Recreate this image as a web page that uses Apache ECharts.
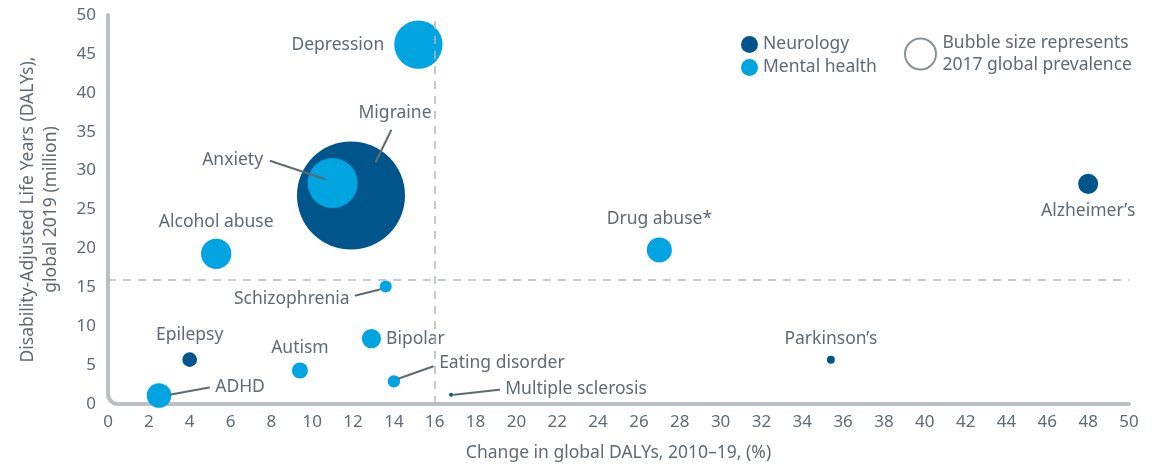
<!DOCTYPE html>
<html>
<head>
<meta charset="utf-8">
<script src="https://cdn.jsdelivr.net/npm/echarts@6/dist/echarts.min.js"></script>
<style>
  html, body { margin: 0; padding: 0; background: #ffffff; }
  #chart { width: 1163px; height: 467px; }
</style>
</head>
<body>
<div id="chart"></div>
<script>
// Neurology conditions: change in DALYs 2010–19 (%), DALYs 2019 (million), 2017 prevalence (million)
const neuroNames = ['Migraine', 'Epilepsy', 'Alzheimer’s', 'Parkinson’s', 'Multiple sclerosis'];
const neuroChange = [11.9, 4.0, 48.0, 35.4, 16.8];
const neuroDalys = [26.8, 5.7, 28.3, 5.7, 1.2];
const neuroPrevalence = [1040, 19, 36, 5.7, 1.4];

// Mental health conditions
const mentalNames = ['Depression', 'Anxiety', 'Alcohol abuse', 'Drug abuse*', 'Schizophrenia', 'Bipolar', 'Autism', 'Eating disorder', 'ADHD'];
const mentalChange = [15.2, 11.0, 5.3, 27.0, 13.6, 12.9, 9.4, 14.0, 2.5];
const mentalDalys = [46.2, 28.4, 19.3, 19.8, 15.1, 8.4, 4.3, 2.9, 1.1];
const mentalPrevalence = [208, 223, 82, 56, 13, 33, 23, 13.5, 54];

// Reference thresholds drawn as dashed guides
const thresholdChange = 16;
const thresholdDalys = 16;

const seriesNames = ['Neurology', 'Mental health'];
const sizeNote = 'Bubble size represents\n2017 global prevalence';

// ---- styling ----
const FONT = 'Noto Sans';
const TEXT = '#5f6a72';
const AXIS_GREY = '#bac1c5';
const DASH_GREY = '#b3b9bd';
const DARK_BLUE = '#00568a';
const LIGHT_BLUE = '#00a4e0';
const LEADER = '#5f6a72';
const SIZE_SCALE = 3.35;   // bubble diameter = sqrt(prevalence) * scale
const LABEL_SIZE = 17.5;
const TICK_SIZE = 17;

// Label placement in pixels: either a side position, or a shift from the
// bubble centre plus a leader line (start/end offsets from the centre)
const labelPlacement = {
  'Migraine':           { dx: 44,  dy: -82, line: [25, -34, 40, -65] },
  'Anxiety':            { dx: -100, dy: -23, line: [-8, -4, -62, -22] },
  'Schizophrenia':      { dx: -94, dy: 12,  line: [-6, 3, -30, 9] },
  'ADHD':               { dx: 81,  dy: -8,  line: [12, -1, 50, -8] },
  'Eating disorder':    { dx: 108, dy: -18, line: [5, -3, 39, -15] },
  'Multiple sclerosis': { dx: 125, dy: -6,  line: [3, 0, 48, -5] },
  'Depression':         { position: 'left', distance: 10 },
  'Alcohol abuse':      { position: 'top', distance: 8 },
  'Epilepsy':           { position: 'top', distance: 8 },
  'Autism':             { position: 'top', distance: 5 },
  'Bipolar':            { position: 'right', distance: 5, offset: [0, -8] },
  'Parkinson’s':        { position: 'top', distance: 8 },
  'Alzheimer’s':        { position: 'bottom', distance: 8 },
  'Drug abuse*':        { position: 'top', distance: 9 }
};

function buildData(names, xs, ys, sizes) {
  return names.map(function (name, i) {
    const p = labelPlacement[name] || {};
    const item = { name: name, value: [xs[i], ys[i], sizes[i]] };
    if (p.line) {
      item.label = { position: 'inside' };
    } else {
      item.label = { position: p.position || 'top', distance: p.distance || 5, offset: p.offset || [0, 0] };
    }
    return item;
  });
}

function layoutFor(names) {
  return function (params) {
    const p = labelPlacement[names[params.dataIndex]];
    if (p && p.line) return { dx: p.dx, dy: p.dy };
    return {};
  };
}

// Points that carry a leader line
const leaderItems = [];
[[neuroNames, neuroChange, neuroDalys], [mentalNames, mentalChange, mentalDalys]].forEach(function (g) {
  g[0].forEach(function (name, i) {
    if (labelPlacement[name] && labelPlacement[name].line) {
      leaderItems.push({ name: name, value: [g[1][i], g[2][i]] });
    }
  });
});

const labelStyle = {
  show: true,
  formatter: '{b}',
  color: TEXT,
  fontFamily: FONT,
  fontSize: LABEL_SIZE
};

const chart = echarts.init(document.getElementById('chart'), null, { renderer: 'canvas' });

const option = {
  backgroundColor: '#ffffff',
  animation: false,
  textStyle: { fontFamily: FONT },
  grid: { left: 108, right: 34, top: 15, bottom: 63 },
  xAxis: {
    type: 'value',
    min: 0, max: 50, interval: 2,
    name: 'Change in global DALYs, 2010–19, (%)',
    nameLocation: 'middle',
    nameGap: 40,
    nameTextStyle: { color: TEXT, fontSize: LABEL_SIZE, fontFamily: FONT },
    axisLine: { show: false },
    axisTick: { show: false },
    splitLine: { show: false },
    axisLabel: { color: TEXT, fontSize: TICK_SIZE, fontFamily: FONT, margin: 10 }
  },
  yAxis: {
    type: 'value',
    min: 0, max: 50, interval: 5,
    name: 'Disability-Adjusted Life Years (DALYs),\nglobal 2019 (million)',
    nameLocation: 'middle',
    nameGap: 45,
    nameTextStyle: { color: TEXT, fontSize: LABEL_SIZE, fontFamily: FONT, lineHeight: 23 },
    axisLine: { show: false },
    axisTick: { show: false },
    splitLine: { show: false },
    axisLabel: { color: TEXT, fontSize: TICK_SIZE, fontFamily: FONT, margin: 12 }
  },
  legend: [
    {
      data: seriesNames,
      orient: 'vertical',
      left: 736,
      top: 28,
      itemGap: 0,
      itemWidth: 17,
      itemHeight: 17,
      icon: 'circle',
      textStyle: { color: TEXT, fontSize: LABEL_SIZE, fontFamily: FONT, lineHeight: 23 },
      selectedMode: false
    },
    {
      data: [{
        name: sizeNote,
        icon: 'circle',
        itemStyle: { color: 'rgba(0,0,0,0)', borderColor: '#6b757b', borderWidth: 2 }
      }],
      left: 899,
      top: 27,
      itemWidth: 34,
      itemHeight: 31,
      textStyle: { color: TEXT, fontSize: LABEL_SIZE, fontFamily: FONT, lineHeight: 22 },
      selectedMode: false
    }
  ],
  series: [
    {
      name: seriesNames[0],
      type: 'scatter',
      z: 2,
      data: buildData(neuroNames, neuroChange, neuroDalys, neuroPrevalence),
      symbolSize: function (v) { return Math.sqrt(v[2]) * SIZE_SCALE; },
      itemStyle: { color: DARK_BLUE, opacity: 1 },
      label: labelStyle,
      labelLayout: layoutFor(neuroNames),
      emphasis: { disabled: true }
    },
    {
      name: seriesNames[1],
      type: 'scatter',
      z: 3,
      data: buildData(mentalNames, mentalChange, mentalDalys, mentalPrevalence),
      symbolSize: function (v) { return Math.sqrt(v[2]) * SIZE_SCALE; },
      itemStyle: { color: LIGHT_BLUE, opacity: 1 },
      label: labelStyle,
      labelLayout: layoutFor(mentalNames),
      emphasis: { disabled: true },
      markLine: {
        silent: true,
        symbol: ['none', 'none'],
        label: { show: false },
        lineStyle: { color: DASH_GREY, type: [8, 7], width: 1.5 },
        data: [{ xAxis: thresholdChange }, { yAxis: thresholdDalys }]
      }
    },
    {
      // leader lines from bubbles to their shifted labels
      name: 'leaders',
      type: 'custom',
      z: 4,
      silent: true,
      data: leaderItems,
      renderItem: function (params, api) {
        const c = api.coord([api.value(0), api.value(1)]);
        const l = labelPlacement[leaderItems[params.dataIndex].name].line;
        return {
          type: 'line',
          shape: { x1: c[0] + l[0], y1: c[1] + l[1], x2: c[0] + l[2], y2: c[1] + l[3] },
          style: { stroke: LEADER, lineWidth: 2, lineCap: 'round' }
        };
      }
    },
    {
      name: sizeNote,
      type: 'scatter',
      data: [],
      itemStyle: { color: 'rgba(0,0,0,0)', borderColor: '#6b757b', borderWidth: 2 }
    }
  ]
};

chart.setOption(option);

// Axis frame: an L-shaped rule with a rounded corner at the origin
(function drawFrame() {
  const origin = chart.convertToPixel({ gridIndex: 0 }, [0, 0]);
  const top = chart.convertToPixel({ gridIndex: 0 }, [0, 50]);
  const right = chart.convertToPixel({ gridIndex: 0 }, [50, 0]);
  const r = 10;
  const style = { stroke: AXIS_GREY, lineWidth: 4, fill: null, lineCap: 'round' };
  chart.setOption({
    graphic: [
      { type: 'line', z: 1, shape: { x1: top[0], y1: top[1], x2: origin[0], y2: origin[1] - r }, style: style },
      { type: 'line', z: 1, shape: { x1: origin[0] + r, y1: origin[1], x2: right[0], y2: right[1] }, style: style },
      { type: 'arc', z: 1, shape: { cx: origin[0] + r, cy: origin[1] - r, r: r, startAngle: Math.PI / 2, endAngle: Math.PI, clockwise: true }, style: style }
    ]
  });
})();
</script>
</body>
</html>
